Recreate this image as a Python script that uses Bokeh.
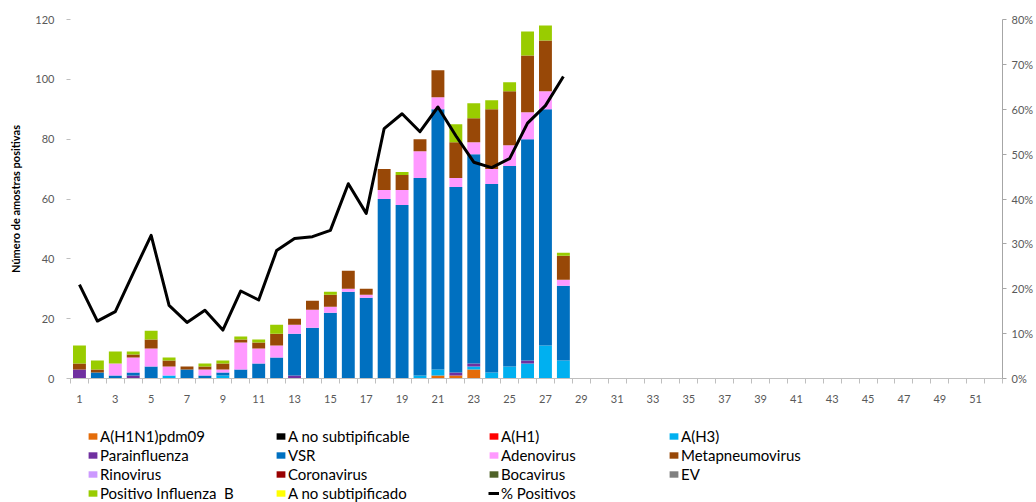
from bokeh.plotting import figure
from bokeh.layouts import column
from bokeh.models import (Range1d, LinearAxis, FixedTicker, NumeralTickFormatter,
                          Legend, LegendItem, ColumnDataSource)
from bokeh.embed import file_html
from bokeh.resources import INLINE

weeks = list(range(1, 29))
week_ticks = list(range(1, 52, 2))

h1n1 = [0, 0, 0, 0, 0, 0, 0, 0, 0, 0, 0, 0, 0, 0, 0, 0, 0, 0, 0, 0, 1, 1, 3, 0, 0, 0, 0, 0]
a_nosub = [0] * 28
h1 = [0] * 28
h3 = [0, 0, 0, 0, 0, 1, 0, 0, 1, 0, 0, 0, 0, 0, 0, 0, 0, 0, 0, 1, 2, 0, 1, 2, 4, 5, 11, 6]
parainf = [3, 0, 0, 1, 0, 0, 0, 0, 0, 0, 0, 0, 1, 0, 0, 0, 0, 0, 0, 0, 0, 1, 1, 0, 0, 1, 0, 0]
vsr = [0, 2, 1, 1, 4, 0, 3, 1, 1, 3, 5, 7, 14, 17, 22, 29, 27, 60, 58, 66, 87, 62, 70, 63, 67, 74, 79, 25]
adeno = [0, 0, 4, 5, 6, 3, 0, 2, 1, 9, 5, 4, 3, 6, 2, 1, 1, 3, 5, 9, 4, 3, 4, 5, 7, 9, 6, 2]
metap = [2, 1, 0, 1, 3, 2, 1, 1, 2, 1, 2, 4, 2, 3, 4, 6, 2, 7, 5, 4, 9, 12, 8, 20, 18, 19, 17, 8]
rino = [0] * 28
corona = [0] * 28
boca = [0] * 28
ev = [0] * 28
inf_b = [6, 3, 4, 1, 3, 1, 0, 1, 1, 1, 1, 3, 0, 0, 1, 0, 0, 0, 1, 0, 0, 6, 5, 3, 3, 8, 5, 1]
a_nosub2 = [0] * 28
pct_pos = [20.9, 12.8, 14.9, 23.5, 31.9, 16.3, 12.5, 15.2, 10.8, 19.5, 17.5, 28.5, 31.2, 31.6,
           33.0, 43.4, 36.8, 55.7, 59.0, 55.0, 60.5, 54.1, 48.2, 47.0, 49.0, 56.9, 60.8, 67.3]

names = ["A(H1N1)pdm09", "A no subtipificable", "A(H1)", "A(H3)",
         "Parainfluenza", "VSR", "Adenovirus", "Metapneumovirus",
         "Rinovirus", "Coronavirus", "Bocavirus", "EV",
         "Positivo Influenza  B", "A no subtipificado"]
series = [h1n1, a_nosub, h1, h3, parainf, vsr, adeno, metap, rino, corona, boca, ev, inf_b, a_nosub2]
colors = ["#E46C0A", "#000000", "#FF0000", "#00B0F0",
          "#7030A0", "#0070C0", "#FF99FF", "#984807",
          "#CC99FF", "#990000", "#4F6228", "#808080",
          "#99CC00", "#FFFF00"]
line_name = "% Positivos"

FONT = "Lato"

keys = ["s%d" % i for i in range(len(series))]
data = {"x": weeks}
for k, s in zip(keys, series):
    data[k] = s
source = ColumnDataSource(data)

p = figure(width=1036, height=426, x_range=Range1d(0.5, 52.5), y_range=Range1d(0, 120),
           output_backend="svg", toolbar_location=None,
           min_border_left=70, min_border_right=30, min_border_top=19, min_border_bottom=48)
p.outline_line_color = None
p.xgrid.visible = False
p.ygrid.visible = False

bars = p.vbar_stack(keys, x="x", width=0.72, fill_color=colors, line_color=None, source=source)

p.extra_y_ranges = {"pct": Range1d(0, 0.8)}
pct_frac = [v / 100.0 for v in pct_pos]
ln = p.line(weeks, pct_frac, y_range_name="pct", line_width=3, line_color="black",
            line_join="round")

# left axis
ya = p.yaxis[0]
ya.ticker = FixedTicker(ticks=[0, 20, 40, 60, 80, 100, 120])
ya.axis_line_color = None
ya.major_tick_line_color = "#bfbfbf"
ya.major_tick_out = 4
ya.major_tick_in = 0
ya.minor_tick_line_color = None
ya.major_label_text_font = FONT
ya.major_label_text_font_size = "11px"
ya.major_label_text_color = "#595959"
ya.major_label_standoff = 12
ya.axis_label = "Número de amostras positivas"
ya.axis_label_text_font = FONT
ya.axis_label_text_font_size = "11px"
ya.axis_label_text_font_style = "bold"
ya.axis_label_text_color = "#000000"
ya.axis_label_standoff = 10

# right axis
ra = LinearAxis(y_range_name="pct",
                ticker=FixedTicker(ticks=[0, 0.1, 0.2, 0.3, 0.4, 0.5, 0.6, 0.7, 0.8]),
                formatter=NumeralTickFormatter(format="0%"))
ra.axis_line_color = "#a6a6a6"
ra.major_tick_line_color = "#a6a6a6"
ra.major_tick_out = 4
ra.major_tick_in = 0
ra.minor_tick_line_color = None
ra.major_label_text_font = FONT
ra.major_label_text_font_size = "11px"
ra.major_label_text_color = "#595959"
ra.major_label_standoff = 5
p.add_layout(ra, "right")

# bottom axis
xa = p.xaxis[0]
xa.ticker = FixedTicker(ticks=week_ticks, minor_ticks=[i + 0.5 for i in range(0, 53)])
xa.axis_line_color = "#bfbfbf"
xa.major_tick_line_color = None
xa.major_tick_out = 0
xa.major_tick_in = 0
xa.minor_tick_line_color = "#bfbfbf"
xa.minor_tick_out = 5
xa.minor_tick_in = 0
xa.major_label_text_font = FONT
xa.major_label_text_font_size = "11px"
xa.major_label_text_color = "#595959"
xa.major_label_standoff = 11

# legend figure below the chart (keys drawn with off-range sample glyphs)
lf = figure(width=1036, height=76, x_range=Range1d(0, 1), y_range=Range1d(0, 1),
            output_backend="svg", toolbar_location=None,
            x_axis_location=None, y_axis_location=None,
            min_border_left=70, min_border_right=30, min_border_top=0, min_border_bottom=0)
lf.outline_line_color = None
lf.grid.visible = False
key_renderers = [lf.vbar(x=[-5], top=[-5], bottom=[-6], width=0.5, fill_color=c, line_color=None)
                 for c in colors]
key_line = lf.line(x=[-5, -4], y=[-5, -5], line_width=3, line_color="black")

items = [LegendItem(label=n, renderers=[r]) for n, r in zip(names, key_renderers)]
items.append(LegendItem(label=line_name, renderers=[key_line]))
cols = [[0, 4, 8, 12], [1, 5, 9, 13], [2, 6, 10, 14], [3, 7, 11]]
col_x = [17, 205, 418, 598]
row_h = 19
for cx, idxs in zip(col_x, cols):
    lg = Legend(items=[items[i] for i in idxs], location=(cx, row_h * (4 - len(idxs))),
                orientation="vertical")
    lg.border_line_color = None
    lg.background_fill_alpha = 0
    lg.padding = 0
    lg.margin = 0
    lg.spacing = 0
    lg.label_height = row_h
    lg.glyph_height = 8
    lg.glyph_width = 11
    lg.label_standoff = 2
    lg.label_text_font = FONT
    lg.label_text_font_size = "15px"
    lg.label_text_color = "#000000"
    lf.add_layout(lg, "center")

layout = column(p, lf, spacing=0)
open("out.html", "w").write(file_html(layout, INLINE))
